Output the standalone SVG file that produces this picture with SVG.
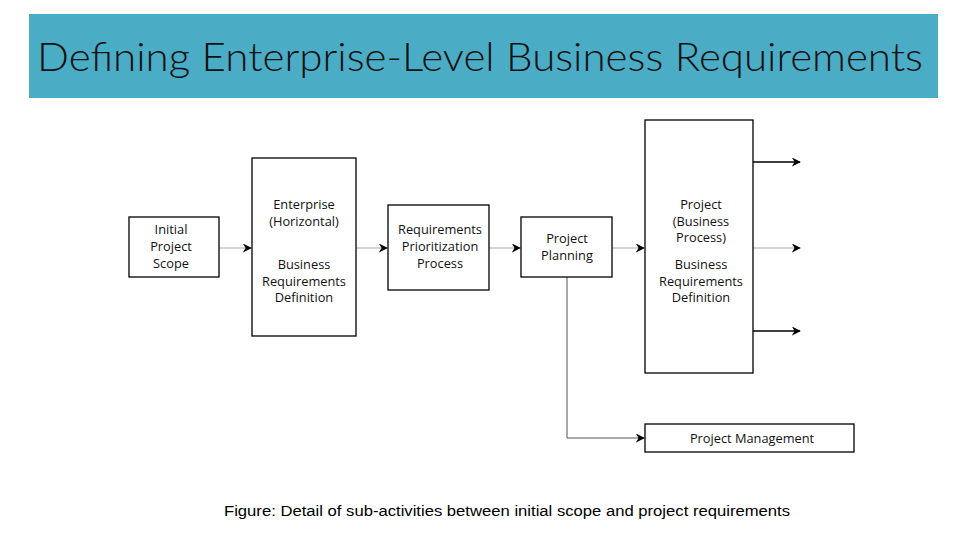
<svg xmlns="http://www.w3.org/2000/svg" width="960" height="540" viewBox="0 0 960 540">
<defs>
<style>
.box{fill:#fff;stroke:#000;stroke-width:1.3}
.t{font-family:"Open Sans","DejaVu Sans",sans-serif;font-size:12.8px;fill:#111;text-anchor:middle}
.g{stroke:#aaa;stroke-width:1;fill:none}
.k{stroke:#000;stroke-width:1.3;fill:none}
</style>
<marker id="ah" viewBox="0 0 10 10" refX="9" refY="5" markerWidth="9" markerHeight="9" markerUnits="userSpaceOnUse" orient="auto">
<path d="M0,0 L10,5 L0,10 L3,5 Z" fill="#000"/>
</marker>
</defs>
<rect width="960" height="540" fill="#fff"/>
<g id="title">
<rect x="29" y="14" width="909" height="84" fill="#4BACC6"/>
<text x="37" y="71" font-family="Lato,'Open Sans','DejaVu Sans',sans-serif" font-weight="300" font-size="40" fill="#111" textLength="886" lengthAdjust="spacingAndGlyphs">Defining Enterprise-Level Business Requirements</text>
</g>
<g id="connectors">
<line class="g" x1="219" y1="248" x2="251" y2="248" marker-end="url(#ah)"/>
<line class="g" x1="356" y1="248" x2="387" y2="248" marker-end="url(#ah)"/>
<line class="g" x1="489" y1="248" x2="520" y2="248" marker-end="url(#ah)"/>
<line class="g" x1="612" y1="248" x2="644" y2="248" marker-end="url(#ah)"/>
<line class="k" x1="753" y1="162" x2="800" y2="162" marker-end="url(#ah)"/>
<line class="g" x1="753" y1="248" x2="800" y2="248" marker-end="url(#ah)"/>
<line class="k" x1="753" y1="331" x2="800" y2="331" marker-end="url(#ah)"/>
<polyline class="g" points="567,277 567,438 644,438" marker-end="url(#ah)" style="stroke:#555"/>
</g>
<g id="initial">
<rect class="box" x="129" y="217" width="90" height="60"/>
<text class="t" x="171" y="234">Initial</text>
<text class="t" x="171" y="251">Project</text>
<text class="t" x="171" y="268">Scope</text>
</g>
<g id="enterprise">
<rect class="box" x="252" y="158" width="104" height="178"/>
<text class="t" x="304" y="209">Enterprise</text>
<text class="t" x="304" y="226">(Horizontal)</text>
<text class="t" x="304" y="269">Business</text>
<text class="t" x="304" y="285.5">Requirements</text>
<text class="t" x="304" y="302">Definition</text>
</g>
<g id="prioritization">
<rect class="box" x="388" y="205" width="101" height="85"/>
<text class="t" x="440" y="234">Requirements</text>
<text class="t" x="440" y="251">Prioritization</text>
<text class="t" x="440" y="268">Process</text>
</g>
<g id="planning">
<rect class="box" x="521" y="217" width="91" height="60"/>
<text class="t" x="567" y="243">Project</text>
<text class="t" x="567" y="260">Planning</text>
</g>
<g id="project">
<rect class="box" x="645" y="120" width="108" height="253"/>
<text class="t" x="701" y="209">Project</text>
<text class="t" x="701" y="225.5">(Business</text>
<text class="t" x="701" y="242">Process)</text>
<text class="t" x="701" y="269">Business</text>
<text class="t" x="701" y="285.5">Requirements</text>
<text class="t" x="701" y="302">Definition</text>
</g>
<g id="management">
<rect class="box" x="645" y="424" width="209" height="28"/>
<text class="t" x="752" y="443">Project Management</text>
</g>
<text x="224" y="516" font-family="'Liberation Sans',Arial,sans-serif" font-size="14" fill="#000" textLength="566" lengthAdjust="spacingAndGlyphs">Figure: Detail of sub-activities between initial scope and project requirements</text>
</svg>
